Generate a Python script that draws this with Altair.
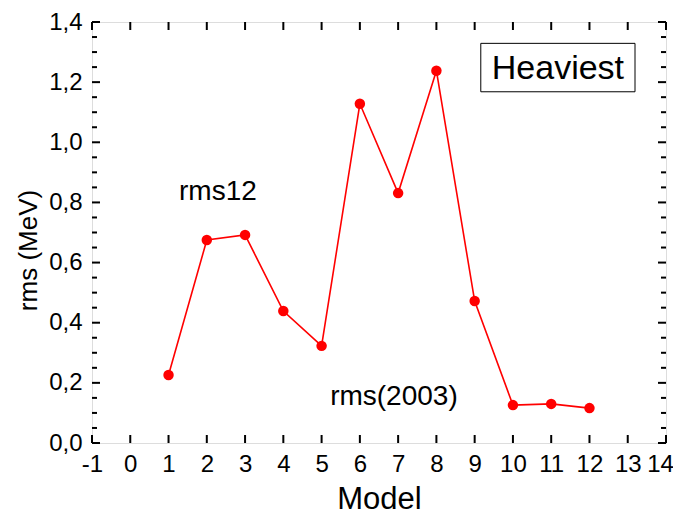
import altair as alt
import pandas as pd

# data
models = [1, 2, 3, 4, 5, 6, 7, 8, 9, 10, 11, 12]
rms = [0.226, 0.675, 0.692, 0.439, 0.323, 1.128, 0.831, 1.238, 0.472, 0.126, 0.130, 0.116]

x_ticks = list(range(-1, 15))
y_major = [0.0, 0.2, 0.4, 0.6, 0.8, 1.0, 1.2, 1.4]
y_minor = [round(0.05 * i, 2) for i in range(0, 29) if i % 4 != 0]

ann_text = ["rms12", "rms(2003)"]
ann_x = [2.29, 6.89]
ann_y = [0.835, 0.153]

box_label = ["Heaviest"]
box_x = [9.16]
box_x2 = [13.19]
box_y = [1.329]
box_y2 = [1.168]

FONT = "Liberation Sans"
W, H = 574, 421

xscale = alt.Scale(domain=[-1, 14], nice=False, zero=False)
yscale = alt.Scale(domain=[0, 1.4], nice=False, zero=False)

xaxis = alt.Axis(
    values=x_ticks, domain=False, ticks=False, grid=False,
    labelExpr="'' + datum.value", labelFont=FONT, labelFontSize=24,
    labelColor="black", labelPadding=9, labelFlush=False,
    labelOffset={"condition": {"test": "datum.value === 14", "value": -6}, "value": 0},
    title="Model", titleFont=FONT, titleFontSize=31, titleFontWeight="normal",
    titleColor="black", titleBaseline="bottom", titleY=72,
)
yaxis = alt.Axis(
    values=y_major, domain=False, ticks=False, grid=False,
    labelExpr="replace(format(datum.value, '.1f'), '.', ',')",
    labelFont=FONT, labelFontSize=24, labelColor="black", labelPadding=10,
    labelFlush=False,
    title="rms (MeV)", titleFont=FONT, titleFontSize=26, titleFontWeight="normal",
    titleColor="black", titleBaseline="alphabetic", titleX=-56, titleY=228,
    titleAlign="center", titleAngle=270,
)

def X(field):
    return alt.X(field, type="quantitative", scale=xscale, axis=xaxis)

def Y(field):
    return alt.Y(field, type="quantitative", scale=yscale, axis=yaxis)

df = pd.DataFrame({"model": models, "rms": rms})

line = alt.Chart(df).mark_line(color="#ff0000", strokeWidth=1.6).encode(x=X("model"), y=Y("rms"))
pts = alt.Chart(df).mark_circle(color="#ff0000", size=110, opacity=1).encode(x=X("model"), y=Y("rms"))

xt = pd.DataFrame({"v": x_ticks})
ymj = pd.DataFrame({"v": y_major})
ymn = pd.DataFrame({"v": y_minor})

tick_style = dict(color="black", strokeWidth=2)
xt_bottom = alt.Chart(xt).mark_rule(**tick_style).encode(x=X("v"), y=alt.value(H), y2=alt.value(H - 8))
xt_top = alt.Chart(xt).mark_rule(**tick_style).encode(x=X("v"), y=alt.value(0), y2=alt.value(8))
yl_major = alt.Chart(ymj).mark_rule(**tick_style).encode(y=Y("v"), x=alt.value(0), x2=alt.value(8))
yr_major = alt.Chart(ymj).mark_rule(**tick_style).encode(y=Y("v"), x=alt.value(W), x2=alt.value(W - 8))
yl_minor = alt.Chart(ymn).mark_rule(**tick_style).encode(y=Y("v"), x=alt.value(0), x2=alt.value(5))
yr_minor = alt.Chart(ymn).mark_rule(**tick_style).encode(y=Y("v"), x=alt.value(W), x2=alt.value(W - 5))

ann = alt.Chart(pd.DataFrame({"t": ann_text, "x": ann_x, "y": ann_y})).mark_text(
    font=FONT, fontSize=28, color="black", align="center", baseline="middle"
).encode(x=X("x"), y=Y("y"), text="t:N")

box_df = pd.DataFrame({"t": box_label, "x": box_x, "x2": box_x2, "y": box_y, "y2": box_y2})
box = alt.Chart(box_df).mark_rect(fill="white", stroke="black", strokeWidth=1).encode(
    x=X("x"), x2="x2", y=Y("y"), y2="y2"
)
box_text = alt.Chart(box_df).transform_calculate(
    cx="(datum.x + datum.x2) / 2", cy="(datum.y + datum.y2) / 2"
).mark_text(font=FONT, fontSize=34, color="black", align="center", baseline="middle", dy=1).encode(
    x=X("cx"), y=Y("cy"), text="t:N"
)

chart = alt.layer(
    xt_bottom, xt_top, yl_major, yr_major, yl_minor, yr_minor,
    line, pts, ann, box, box_text
).properties(
    width=W, height=H,
    autosize=alt.AutoSizeParams(type="none"),
    padding={"left": 84, "top": 14, "right": 7, "bottom": 72},
).configure_view(stroke="black", strokeWidth=2).configure(background="white")

chart.save("out.html", embed_options={"renderer": "svg", "actions": False})
